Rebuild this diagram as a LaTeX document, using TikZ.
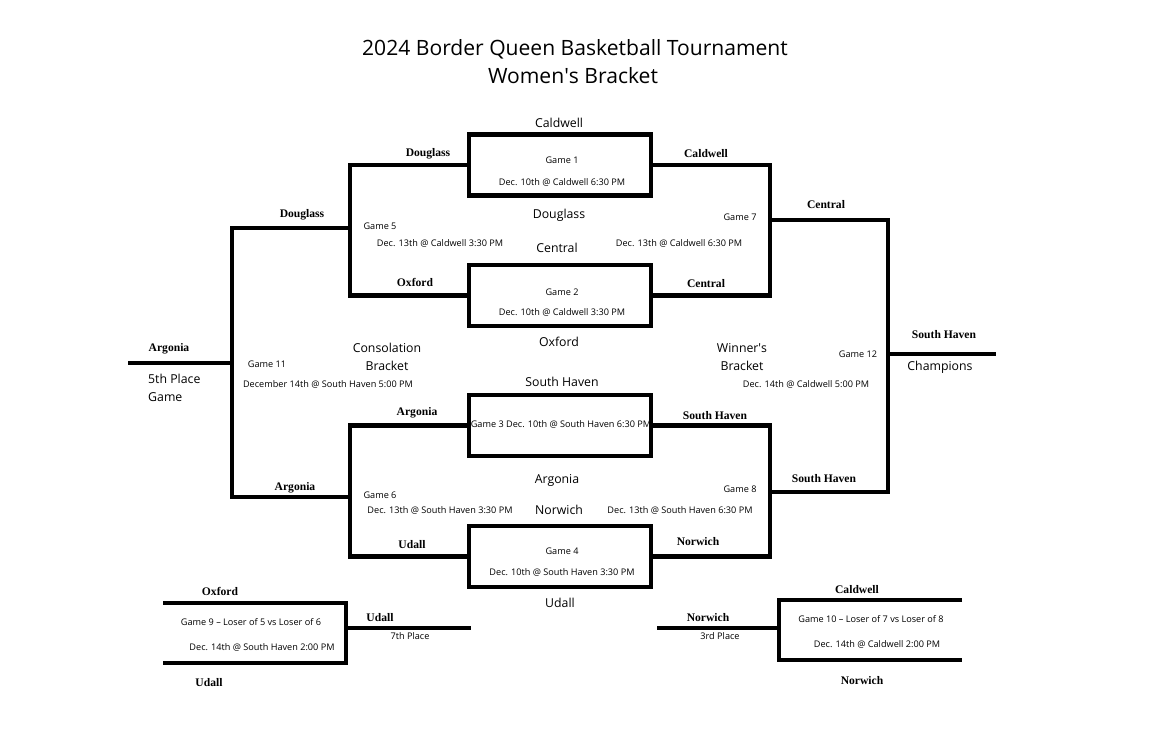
\documentclass[tikz,border=0pt]{standalone}
\usepackage{fontspec}
\setmainfont{Open Sans}
\newfontfamily\serifteam{Liberation Serif}
\usetikzlibrary{calc}

\begin{document}
\begin{tikzpicture}[x=0.02cm,y=-0.02cm,
 game/.style={draw,line width=2.3pt,minimum width=3.64cm,minimum height=1.22cm,inner sep=0pt},
 bracket/.style={line width=2.3pt,line join=miter},
 team/.style={font=\serifteam\bfseries\fontsize{6.6}{8}\selectfont},
 site/.style={font=\fontsize{7}{10.2}\selectfont},
 info/.style={font=\fontsize{5.2}{6}\selectfont},
 heading/.style={font=\fontsize{12}{14}\selectfont}]
 \useasboundingbox (0,0) rectangle (1162,731);
 \node[heading] (title) at (575,49) {2024 Border Queen Basketball Tournament};
 \node[heading] (subtitle) at (573,76) {Women\textquotesingle s Bracket};
 % first round
 \node[game] (g1) at (560,165) {};
 \node[game] (g2) at (560,295.5) {};
 \node[game] (g3) at (560,425.5) {};
 \node[game] (g4) at (560,556.5) {};
 \coordinate (j5) at (350,228);
 \coordinate (j6) at (350,497);
 \coordinate (j7) at (770,220);
 \coordinate (j8) at (770,492);
 \coordinate (j11) at (232,363);
 \coordinate (j12) at (888,354);
 \coordinate (p5) at (128,363);
 \coordinate (champ) at (996,354);
 \draw[bracket] (g1.west) -| (j5) |- (g2.west);
 \draw[bracket] (g3.west) -| (j6) |- (g4.west);
 \draw[bracket] (g1.east) -| (j7) |- (g2.east);
 \draw[bracket] (g3.east) -| (j8) |- (g4.east);
 \draw[bracket] (j5) -| (j11) |- (j6);
 \draw[bracket] (j7) -| (j12) |- (j8);
 \draw[bracket] (j11) -- (p5);
 \draw[bracket] (j12) -- (champ);
 % 7th and 3rd place
 \coordinate (c9a) at (163,603);
 \coordinate (c9b) at (163,663);
 \coordinate (j9) at (346,628);
 \coordinate (p7) at (471,628);
 \coordinate (c10a) at (962,600);
 \coordinate (c10b) at (962,660);
 \coordinate (j10) at (779,628);
 \coordinate (p3) at (657,628);
 \draw[bracket] (c9a) -| (j9) |- (c9b);
 \draw[bracket] (j9) -- (p7);
 \draw[bracket] (c10a) -| (j10) |- (c10b);
 \draw[bracket] (j10) -- (p3);
 % game details
 \node[info] (g1a) at (562,160) {Game 1};
 \node[info] (g1b) at (562,182) {Dec. 10th @ Caldwell 6:30 PM};
 \node[info] (g2a) at (562,292) {Game 2};
 \node[info] (g2b) at (562,312) {Dec. 10th @ Caldwell 3:30 PM};
 \node[info] (g3a) at (561,424) {Game 3 Dec. 10th @ South Haven 6:30 PM};
 \node[info] (g4a) at (562,551) {Game 4};
 \node[info] (g4b) at (562,572) {Dec. 10th @ South Haven 3:30 PM};
 \node[info] (g5a) at (380,226) {Game 5};
 \node[info] (g5b) at (440,243) {Dec. 13th @ Caldwell 3:30 PM};
 \node[info] (g7a) at (740,217) {Game 7};
 \node[info] (g7b) at (679,243) {Dec. 13th @ Caldwell 6:30 PM};
 \node[info] (g6a) at (380,495) {Game 6};
 \node[info] (g6b) at (440,510) {Dec. 13th @ South Haven 3:30 PM};
 \node[info] (g8a) at (740,489) {Game 8};
 \node[info] (g8b) at (680,510) {Dec. 13th @ South Haven 6:30 PM};
 \node[info] (g11a) at (267,364) {Game 11};
 \node[info] (g11b) at (328,384) {December 14th @ South Haven 5:00 PM};
 \node[info] (g12a) at (858,354) {Game 12};
 \node[info] (g12b) at (806,384) {Dec. 14th @ Caldwell 5:00 PM};
 \node[info] (g9a) at (251,622) {Game 9 -- Loser of 5 vs Loser of 6};
 \node[info] (g9b) at (262,647) {Dec. 14th @ South Haven 2:00 PM};
 \node[info] (g10a) at (871,619) {Game 10 -- Loser of 7 vs Loser of 8};
 \node[info] (g10b) at (877,644) {Dec. 14th @ Caldwell 2:00 PM};
 \node[info] (seventh) at (410,636) {7th Place};
 \node[info] (third) at (720,636) {3rd Place};
 % sites and brackets
 \node[site] (s1) at (559,123) {Caldwell};
 \node[site] (s2) at (559,215) {Douglass};
 \node[site] (s3) at (557,248) {Central};
 \node[site] (s4) at (559,342) {Oxford};
 \node[site] (s5) at (562,382) {South Haven};
 \node[site] (s6) at (557,480) {Argonia};
 \node[site] (s7) at (559,510) {Norwich};
 \node[site] (s8) at (560,603) {Udall};
 \node[site,align=center] (consol) at (387,357) {Consolation\\Bracket};
 \node[site,align=center] (winners) at (742,357) {Winner\textquotesingle s\\Bracket};
 \node[site,align=left,anchor=west] (fifth) at (142,388) {5th Place\\Game};
 \node[site] (champions) at (940,367) {Champions};
 % teams
 \node[team] (tDouglassA) at (428,154) {Douglass};
 \node[team] (tCaldwellA) at (706,154) {Caldwell};
 \node[team] (tDouglassB) at (302,215) {Douglass};
 \node[team] (tOxfordA) at (415,282) {Oxford};
 \node[team] (tCentralA) at (706,284) {Central};
 \node[team] (tCentralB) at (826,205) {Central};
 \node[team] (tSouthHavenA) at (944,335) {South Haven};
 \node[team] (tArgoniaA) at (169,349) {Argonia};
 \node[team] (tArgoniaB) at (417,413) {Argonia};
 \node[team] (tSouthHavenB) at (715,416) {South Haven};
 \node[team] (tArgoniaC) at (295,488) {Argonia};
 \node[team] (tSouthHavenC) at (824,479) {South Haven};
 \node[team] (tUdallA) at (412,545) {Udall};
 \node[team] (tNorwichA) at (698,542) {Norwich};
 \node[team] (tOxfordB) at (220,591) {Oxford};
 \node[team] (tUdallB) at (209,683) {Udall};
 \node[team] (tUdallC) at (380,618) {Udall};
 \node[team] (tCaldwellB) at (857,590) {Caldwell};
 \node[team] (tNorwichB) at (862,681) {Norwich};
 \node[team] (tNorwichC) at (708,618) {Norwich};
\end{tikzpicture}
\end{document}
